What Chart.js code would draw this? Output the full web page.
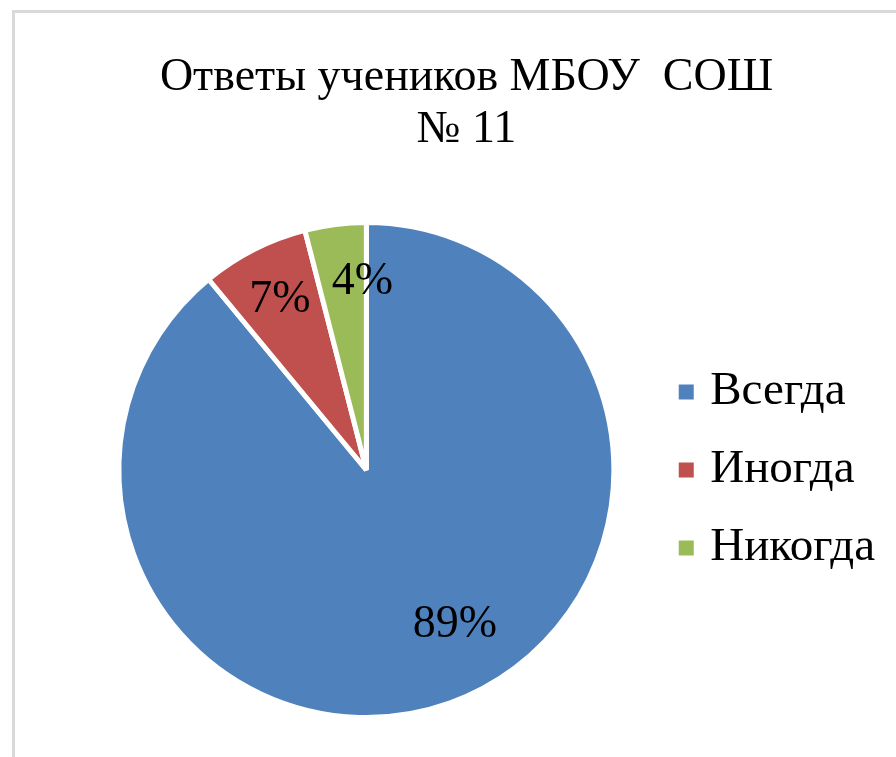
<!DOCTYPE html>
<html lang="ru">
<head>
<meta charset="utf-8">
<title>Ответы учеников МБОУ СОШ № 11</title>
<script src="https://cdn.jsdelivr.net/npm/chart.js@4.4.1/dist/chart.umd.min.js"></script>
<style>
  html, body { margin: 0; padding: 0; background: #fff; overflow: hidden; }
  #frame {
    position: absolute; left: 12px; top: 10px; width: 900px; height: 760px;
    border-top: 3px solid #d9d9d9; border-left: 3px solid #d9d9d9;
  }
  #wrap { position: absolute; left: 0; top: 0; width: 896px; height: 757px; }
</style>
</head>
<body>
<div id="frame"></div>
<div id="wrap"><canvas id="otvetyChart" width="896" height="757"></canvas></div>
<script>
// данные диаграммы
const kategorii = ["Всегда", "Иногда", "Никогда"];
const procenty = [89, 7, 4];
const podpisi = ["89%", "7%", "4%"];
const titleLines = ["Ответы учеников МБОУ  СОШ", "№ 11"];
const cveta = ["#4f81bd", "#c0504d", "#9bbb59"];

// где стоят подписи внутри секторов (доля радиуса, сдвиг угла в градусах)
const labelRadius = [0.72, 0.77, 0.76];
const labelTurn = [-10, 0, 6];

const serif = "'Liberation Serif', 'Times New Roman', serif";

// Helper: подписи значений на секторах
const sectorLabels = {
  id: "sectorLabels",
  afterDatasetsDraw(chart) {
    const ctx = chart.ctx;
    const meta = chart.getDatasetMeta(0);
    ctx.save();
    ctx.font = "46px " + serif;
    ctx.fillStyle = "#000";
    ctx.textAlign = "center";
    ctx.textBaseline = "middle";
    meta.data.forEach((arc, i) => {
      const p = arc.getProps(["x", "y", "startAngle", "endAngle", "outerRadius"], true);
      const a = (p.startAngle + p.endAngle) / 2 + labelTurn[i] * Math.PI / 180;
      const r = p.outerRadius * labelRadius[i];
      ctx.fillText(podpisi[i], p.x + Math.cos(a) * r, p.y + Math.sin(a) * r);
    });
    ctx.restore();
  }
};

// заголовок в Excel центрирован по всей ширине диаграммы, чуть левее
const titleNudge = {
  id: "titleNudge",
  afterLayout(chart, args, opts) {
    if (chart.titleBlock) {
      chart.titleBlock.left += opts.dx;
      chart.titleBlock.right += opts.dx;
    }
  }
};

const canvas = document.getElementById("otvetyChart");
new Chart(canvas.getContext("2d"), {
  type: "pie",
  data: {
    labels: kategorii,
    datasets: [{
      data: procenty,
      backgroundColor: cveta,
      borderColor: "#fff",
      borderWidth: 5
    }]
  },
  options: {
    responsive: false,
    animation: false,
    layout: { padding: { left: 78, right: 11, top: 0, bottom: 37 } },
    plugins: {
      title: {
        display: true,
        text: titleLines,
        color: "#000",
        font: { family: serif, size: 46, weight: "normal", lineHeight: 1.13 },
        padding: { top: 52, bottom: 64 }
      },
      legend: {
        position: "right",
        align: "center",
        fullSize: false,
        labels: {
          color: "#000",
          font: { family: serif, size: 47 },
          usePointStyle: true,
          pointStyle: "rect",
          boxWidth: 1,
          boxHeight: 15,
          padding: 31,
          // квадратики без белой обводки
          generateLabels(chart) {
            return Chart.overrides.pie.plugins.legend.labels.generateLabels(chart)
              .map(item => ({ ...item, lineWidth: 0 }));
          }
        }
      },
      tooltip: { enabled: false },
      titleNudge: { dx: -15 }
    }
  },
  plugins: [sectorLabels, titleNudge]
});
</script>
</body>
</html>
